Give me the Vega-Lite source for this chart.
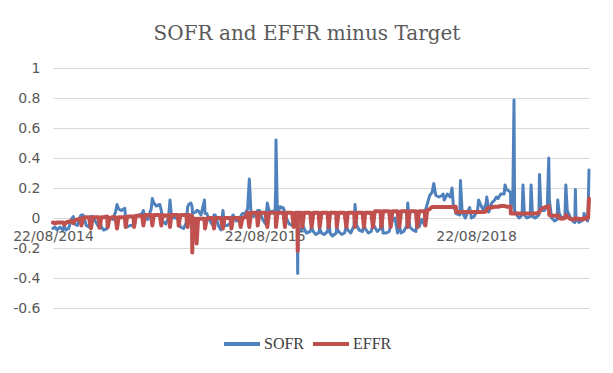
{
 "$schema": "https://vega.github.io/schema/vega-lite/v6.json",
 "width": 536, "height": 240,
 "autosize": {"type": "none"},
 "padding": {"left": 53, "top": 68, "right": 24, "bottom": 65},
 "background": "#ffffff",
 "config": {"view": {"stroke": null}},
 "title": {"text": "SOFR and EFFR minus Target", "font": "DejaVu Serif", "fontSize": 20, "fontWeight": "normal", "color": "#595959", "anchor": "middle", "frame": "group", "dx": -14, "baseline": "alphabetic", "offset": 1},
 "data": {"values": [
{"date":"2014-08-22","SOFR":-0.07,"EFFR":-0.03},
{"date":"2014-08-29","SOFR":-0.06,"EFFR":-0.035},
{"date":"2014-09-05","SOFR":-0.08,"EFFR":-0.03},
{"date":"2014-09-15","SOFR":-0.06,"EFFR":-0.03},
{"date":"2014-09-25","SOFR":-0.08,"EFFR":-0.03},
{"date":"2014-09-30","SOFR":-0.05,"EFFR":-0.045},
{"date":"2014-10-06","SOFR":-0.08,"EFFR":-0.03},
{"date":"2014-10-15","SOFR":-0.07,"EFFR":-0.025},
{"date":"2014-10-24","SOFR":-0.01,"EFFR":-0.02},
{"date":"2014-10-31","SOFR":0.01,"EFFR":-0.035},
{"date":"2014-11-05","SOFR":-0.04,"EFFR":-0.015},
{"date":"2014-11-14","SOFR":-0.05,"EFFR":-0.01},
{"date":"2014-11-24","SOFR":0.01,"EFFR":-0.005},
{"date":"2014-11-28","SOFR":0.02,"EFFR":-0.05},
{"date":"2014-12-04","SOFR":0.02,"EFFR":0.0},
{"date":"2014-12-15","SOFR":-0.05,"EFFR":0.005},
{"date":"2014-12-24","SOFR":-0.06,"EFFR":0.005},
{"date":"2014-12-31","SOFR":0.01,"EFFR":-0.07},
{"date":"2015-01-06","SOFR":0.01,"EFFR":0.005},
{"date":"2015-01-15","SOFR":-0.02,"EFFR":0.005},
{"date":"2015-01-27","SOFR":-0.06,"EFFR":0.005},
{"date":"2015-01-30","SOFR":0.0,"EFFR":-0.065},
{"date":"2015-02-05","SOFR":-0.06,"EFFR":0.005},
{"date":"2015-02-13","SOFR":-0.08,"EFFR":0.005},
{"date":"2015-02-25","SOFR":-0.07,"EFFR":0.01},
{"date":"2015-02-27","SOFR":-0.02,"EFFR":-0.06},
{"date":"2015-03-05","SOFR":0.0,"EFFR":0.0},
{"date":"2015-03-16","SOFR":-0.01,"EFFR":0.005},
{"date":"2015-03-26","SOFR":0.04,"EFFR":0.005},
{"date":"2015-03-31","SOFR":0.09,"EFFR":-0.07},
{"date":"2015-04-06","SOFR":0.06,"EFFR":0.005},
{"date":"2015-04-15","SOFR":0.05,"EFFR":0.005},
{"date":"2015-04-27","SOFR":0.065,"EFFR":0.005},
{"date":"2015-04-30","SOFR":-0.02,"EFFR":-0.06},
{"date":"2015-05-05","SOFR":-0.06,"EFFR":0.01},
{"date":"2015-05-15","SOFR":-0.05,"EFFR":0.01},
{"date":"2015-05-27","SOFR":-0.05,"EFFR":0.01},
{"date":"2015-05-29","SOFR":0.0,"EFFR":-0.06},
{"date":"2015-06-04","SOFR":0.01,"EFFR":0.015},
{"date":"2015-06-15","SOFR":0.02,"EFFR":0.015},
{"date":"2015-06-26","SOFR":0.03,"EFFR":0.015},
{"date":"2015-06-30","SOFR":0.05,"EFFR":-0.05},
{"date":"2015-07-06","SOFR":0.0,"EFFR":0.02},
{"date":"2015-07-15","SOFR":-0.01,"EFFR":0.02},
{"date":"2015-07-27","SOFR":0.06,"EFFR":0.02},
{"date":"2015-07-31","SOFR":0.13,"EFFR":-0.05},
{"date":"2015-08-05","SOFR":0.1,"EFFR":0.02},
{"date":"2015-08-14","SOFR":0.08,"EFFR":0.02},
{"date":"2015-08-26","SOFR":0.09,"EFFR":0.02},
{"date":"2015-08-31","SOFR":0.05,"EFFR":-0.05},
{"date":"2015-09-04","SOFR":-0.02,"EFFR":0.02},
{"date":"2015-09-15","SOFR":-0.04,"EFFR":0.015},
{"date":"2015-09-25","SOFR":0.0,"EFFR":0.02},
{"date":"2015-09-30","SOFR":0.12,"EFFR":-0.06},
{"date":"2015-10-05","SOFR":0.01,"EFFR":0.02},
{"date":"2015-10-15","SOFR":0.0,"EFFR":0.02},
{"date":"2015-10-27","SOFR":0.0,"EFFR":0.02},
{"date":"2015-10-30","SOFR":-0.02,"EFFR":-0.05},
{"date":"2015-11-05","SOFR":-0.06,"EFFR":0.02},
{"date":"2015-11-16","SOFR":-0.07,"EFFR":0.02},
{"date":"2015-11-25","SOFR":-0.03,"EFFR":0.02},
{"date":"2015-11-30","SOFR":0.075,"EFFR":-0.06},
{"date":"2015-12-04","SOFR":0.09,"EFFR":0.02},
{"date":"2015-12-11","SOFR":0.1,"EFFR":0.015},
{"date":"2015-12-15","SOFR":0.08,"EFFR":0.015},
{"date":"2015-12-16","SOFR":0.06,"EFFR":-0.23},
{"date":"2015-12-17","SOFR":0.03,"EFFR":-0.005},
{"date":"2015-12-28","SOFR":0.04,"EFFR":-0.005},
{"date":"2015-12-31","SOFR":0.05,"EFFR":-0.17},
{"date":"2016-01-05","SOFR":0.05,"EFFR":-0.005},
{"date":"2016-01-15","SOFR":0.02,"EFFR":-0.005},
{"date":"2016-01-27","SOFR":0.12,"EFFR":-0.005},
{"date":"2016-01-29","SOFR":0.03,"EFFR":-0.07},
{"date":"2016-02-04","SOFR":0.03,"EFFR":-0.005},
{"date":"2016-02-12","SOFR":-0.01,"EFFR":0.0},
{"date":"2016-02-25","SOFR":-0.05,"EFFR":0.0},
{"date":"2016-02-29","SOFR":0.02,"EFFR":-0.07},
{"date":"2016-03-04","SOFR":0.02,"EFFR":0.0},
{"date":"2016-03-15","SOFR":-0.05,"EFFR":0.0},
{"date":"2016-03-24","SOFR":-0.08,"EFFR":0.0},
{"date":"2016-03-31","SOFR":0.05,"EFFR":-0.07},
{"date":"2016-04-05","SOFR":-0.05,"EFFR":0.0},
{"date":"2016-04-15","SOFR":-0.05,"EFFR":0.0},
{"date":"2016-04-26","SOFR":-0.035,"EFFR":0.0},
{"date":"2016-04-29","SOFR":0.0,"EFFR":-0.07},
{"date":"2016-05-05","SOFR":0.02,"EFFR":0.0},
{"date":"2016-05-16","SOFR":-0.02,"EFFR":0.0},
{"date":"2016-05-26","SOFR":-0.01,"EFFR":0.0},
{"date":"2016-05-31","SOFR":0.01,"EFFR":-0.06},
{"date":"2016-06-06","SOFR":0.03,"EFFR":0.0},
{"date":"2016-06-15","SOFR":0.03,"EFFR":0.005},
{"date":"2016-06-24","SOFR":0.06,"EFFR":0.035},
{"date":"2016-06-30","SOFR":0.26,"EFFR":-0.06},
{"date":"2016-07-06","SOFR":0.02,"EFFR":0.035},
{"date":"2016-07-15","SOFR":0.01,"EFFR":0.035},
{"date":"2016-07-26","SOFR":0.03,"EFFR":0.035},
{"date":"2016-07-29","SOFR":0.05,"EFFR":-0.05},
{"date":"2016-08-04","SOFR":0.05,"EFFR":0.035},
{"date":"2016-08-15","SOFR":-0.01,"EFFR":0.035},
{"date":"2016-08-25","SOFR":-0.04,"EFFR":0.035},
{"date":"2016-08-31","SOFR":0.1,"EFFR":-0.06},
{"date":"2016-09-06","SOFR":0.05,"EFFR":0.035},
{"date":"2016-09-15","SOFR":0.04,"EFFR":0.035},
{"date":"2016-09-27","SOFR":0.05,"EFFR":0.035},
{"date":"2016-09-29","SOFR":0.2,"EFFR":0.035},
{"date":"2016-09-30","SOFR":0.52,"EFFR":-0.06},
{"date":"2016-10-05","SOFR":0.02,"EFFR":0.035},
{"date":"2016-10-14","SOFR":0.075,"EFFR":0.035},
{"date":"2016-10-26","SOFR":0.065,"EFFR":0.035},
{"date":"2016-10-31","SOFR":0.03,"EFFR":-0.06},
{"date":"2016-11-04","SOFR":0.0,"EFFR":0.035},
{"date":"2016-11-15","SOFR":-0.04,"EFFR":0.035},
{"date":"2016-11-25","SOFR":-0.05,"EFFR":0.035},
{"date":"2016-11-30","SOFR":-0.03,"EFFR":-0.06},
{"date":"2016-12-06","SOFR":-0.04,"EFFR":0.035},
{"date":"2016-12-13","SOFR":-0.05,"EFFR":0.035},
{"date":"2016-12-14","SOFR":-0.37,"EFFR":-0.22},
{"date":"2016-12-15","SOFR":-0.07,"EFFR":0.035},
{"date":"2016-12-27","SOFR":-0.08,"EFFR":0.035},
{"date":"2016-12-30","SOFR":-0.04,"EFFR":-0.06},
{"date":"2017-01-05","SOFR":-0.07,"EFFR":0.035},
{"date":"2017-01-13","SOFR":-0.1,"EFFR":0.035},
{"date":"2017-01-26","SOFR":-0.09,"EFFR":0.035},
{"date":"2017-01-31","SOFR":-0.06,"EFFR":-0.06},
{"date":"2017-02-06","SOFR":-0.09,"EFFR":0.035},
{"date":"2017-02-15","SOFR":-0.11,"EFFR":0.035},
{"date":"2017-02-24","SOFR":-0.1,"EFFR":0.035},
{"date":"2017-02-28","SOFR":-0.07,"EFFR":-0.06},
{"date":"2017-03-06","SOFR":-0.1,"EFFR":0.035},
{"date":"2017-03-15","SOFR":-0.11,"EFFR":0.035},
{"date":"2017-03-27","SOFR":-0.09,"EFFR":0.035},
{"date":"2017-03-31","SOFR":-0.01,"EFFR":-0.06},
{"date":"2017-04-05","SOFR":-0.1,"EFFR":0.035},
{"date":"2017-04-13","SOFR":-0.12,"EFFR":0.035},
{"date":"2017-04-26","SOFR":-0.1,"EFFR":0.035},
{"date":"2017-04-28","SOFR":-0.06,"EFFR":-0.06},
{"date":"2017-05-04","SOFR":-0.09,"EFFR":0.035},
{"date":"2017-05-15","SOFR":-0.11,"EFFR":0.035},
{"date":"2017-05-25","SOFR":-0.1,"EFFR":0.035},
{"date":"2017-05-31","SOFR":-0.05,"EFFR":-0.06},
{"date":"2017-06-05","SOFR":-0.08,"EFFR":0.035},
{"date":"2017-06-15","SOFR":-0.1,"EFFR":0.035},
{"date":"2017-06-27","SOFR":-0.05,"EFFR":0.035},
{"date":"2017-06-30","SOFR":0.09,"EFFR":-0.06},
{"date":"2017-07-06","SOFR":-0.05,"EFFR":0.035},
{"date":"2017-07-14","SOFR":-0.08,"EFFR":0.035},
{"date":"2017-07-26","SOFR":-0.09,"EFFR":0.035},
{"date":"2017-07-31","SOFR":-0.04,"EFFR":-0.06},
{"date":"2017-08-04","SOFR":-0.07,"EFFR":0.035},
{"date":"2017-08-15","SOFR":-0.1,"EFFR":0.035},
{"date":"2017-08-25","SOFR":-0.09,"EFFR":0.035},
{"date":"2017-08-31","SOFR":-0.04,"EFFR":-0.06},
{"date":"2017-09-06","SOFR":-0.06,"EFFR":0.045},
{"date":"2017-09-15","SOFR":-0.09,"EFFR":0.045},
{"date":"2017-09-26","SOFR":-0.07,"EFFR":0.045},
{"date":"2017-09-29","SOFR":0.01,"EFFR":-0.06},
{"date":"2017-10-05","SOFR":-0.1,"EFFR":0.045},
{"date":"2017-10-16","SOFR":-0.1,"EFFR":0.045},
{"date":"2017-10-26","SOFR":-0.09,"EFFR":0.045},
{"date":"2017-10-31","SOFR":-0.05,"EFFR":-0.06},
{"date":"2017-11-06","SOFR":-0.02,"EFFR":0.045},
{"date":"2017-11-15","SOFR":0.0,"EFFR":0.045},
{"date":"2017-11-24","SOFR":-0.1,"EFFR":0.045},
{"date":"2017-11-30","SOFR":-0.05,"EFFR":-0.06},
{"date":"2017-12-06","SOFR":-0.1,"EFFR":0.045},
{"date":"2017-12-15","SOFR":-0.09,"EFFR":0.045},
{"date":"2017-12-26","SOFR":-0.05,"EFFR":0.045},
{"date":"2017-12-29","SOFR":0.1,"EFFR":-0.06},
{"date":"2018-01-05","SOFR":-0.06,"EFFR":0.045},
{"date":"2018-01-16","SOFR":-0.08,"EFFR":0.045},
{"date":"2018-01-26","SOFR":-0.09,"EFFR":0.045},
{"date":"2018-01-31","SOFR":-0.03,"EFFR":-0.06},
{"date":"2018-02-06","SOFR":-0.06,"EFFR":0.045},
{"date":"2018-02-15","SOFR":-0.01,"EFFR":0.045},
{"date":"2018-02-26","SOFR":-0.05,"EFFR":0.045},
{"date":"2018-02-28","SOFR":0.05,"EFFR":-0.05},
{"date":"2018-03-06","SOFR":0.09,"EFFR":0.05},
{"date":"2018-03-15","SOFR":0.15,"EFFR":0.06},
{"date":"2018-03-23","SOFR":0.17,"EFFR":0.073},
{"date":"2018-03-29","SOFR":0.23,"EFFR":0.073},
{"date":"2018-04-05","SOFR":0.15,"EFFR":0.073},
{"date":"2018-04-16","SOFR":0.14,"EFFR":0.073},
{"date":"2018-04-26","SOFR":0.15,"EFFR":0.073},
{"date":"2018-04-30","SOFR":0.16,"EFFR":0.073},
{"date":"2018-05-04","SOFR":0.12,"EFFR":0.073},
{"date":"2018-05-15","SOFR":0.16,"EFFR":0.073},
{"date":"2018-05-25","SOFR":0.14,"EFFR":0.073},
{"date":"2018-05-31","SOFR":0.2,"EFFR":0.073},
{"date":"2018-06-05","SOFR":0.07,"EFFR":0.075},
{"date":"2018-06-13","SOFR":0.05,"EFFR":0.075},
{"date":"2018-06-14","SOFR":0.03,"EFFR":0.04},
{"date":"2018-06-27","SOFR":0.02,"EFFR":0.04},
{"date":"2018-06-29","SOFR":0.25,"EFFR":0.04},
{"date":"2018-07-05","SOFR":0.04,"EFFR":0.04},
{"date":"2018-07-16","SOFR":0.0,"EFFR":0.04},
{"date":"2018-07-26","SOFR":0.05,"EFFR":0.04},
{"date":"2018-07-31","SOFR":0.07,"EFFR":0.04},
{"date":"2018-08-06","SOFR":0.0,"EFFR":0.04},
{"date":"2018-08-15","SOFR":0.01,"EFFR":0.04},
{"date":"2018-08-27","SOFR":0.05,"EFFR":0.04},
{"date":"2018-08-31","SOFR":0.12,"EFFR":0.04},
{"date":"2018-09-06","SOFR":0.09,"EFFR":0.04},
{"date":"2018-09-17","SOFR":0.05,"EFFR":0.04},
{"date":"2018-09-26","SOFR":0.1,"EFFR":0.045},
{"date":"2018-09-28","SOFR":0.14,"EFFR":0.06},
{"date":"2018-10-05","SOFR":0.04,"EFFR":0.07},
{"date":"2018-10-15","SOFR":0.1,"EFFR":0.07},
{"date":"2018-10-25","SOFR":0.12,"EFFR":0.075},
{"date":"2018-10-31","SOFR":0.14,"EFFR":0.075},
{"date":"2018-11-06","SOFR":0.13,"EFFR":0.075},
{"date":"2018-11-15","SOFR":0.16,"EFFR":0.08},
{"date":"2018-11-27","SOFR":0.16,"EFFR":0.08},
{"date":"2018-11-30","SOFR":0.22,"EFFR":0.08},
{"date":"2018-12-05","SOFR":0.19,"EFFR":0.075},
{"date":"2018-12-14","SOFR":0.18,"EFFR":0.075},
{"date":"2018-12-19","SOFR":0.17,"EFFR":0.075},
{"date":"2018-12-20","SOFR":0.06,"EFFR":0.03},
{"date":"2018-12-27","SOFR":0.12,"EFFR":0.03},
{"date":"2018-12-31","SOFR":0.787,"EFFR":0.03},
{"date":"2019-01-02","SOFR":0.05,"EFFR":0.03},
{"date":"2019-01-10","SOFR":0.02,"EFFR":0.03},
{"date":"2019-01-18","SOFR":0.0,"EFFR":0.03},
{"date":"2019-01-28","SOFR":0.02,"EFFR":0.03},
{"date":"2019-01-31","SOFR":0.22,"EFFR":0.03},
{"date":"2019-02-05","SOFR":0.02,"EFFR":0.03},
{"date":"2019-02-14","SOFR":0.0,"EFFR":0.03},
{"date":"2019-02-25","SOFR":0.01,"EFFR":0.03},
{"date":"2019-02-28","SOFR":0.22,"EFFR":0.03},
{"date":"2019-03-05","SOFR":0.01,"EFFR":0.03},
{"date":"2019-03-14","SOFR":0.0,"EFFR":0.03},
{"date":"2019-03-27","SOFR":0.02,"EFFR":0.035},
{"date":"2019-03-29","SOFR":0.29,"EFFR":0.04},
{"date":"2019-04-03","SOFR":0.05,"EFFR":0.06},
{"date":"2019-04-15","SOFR":0.05,"EFFR":0.07},
{"date":"2019-04-25","SOFR":0.08,"EFFR":0.075},
{"date":"2019-04-30","SOFR":0.4,"EFFR":0.08},
{"date":"2019-05-02","SOFR":0.12,"EFFR":0.02},
{"date":"2019-05-10","SOFR":0.0,"EFFR":0.015},
{"date":"2019-05-20","SOFR":-0.02,"EFFR":0.015},
{"date":"2019-05-29","SOFR":-0.01,"EFFR":0.015},
{"date":"2019-05-31","SOFR":0.12,"EFFR":0.02},
{"date":"2019-06-05","SOFR":0.03,"EFFR":0.0},
{"date":"2019-06-14","SOFR":0.0,"EFFR":-0.005},
{"date":"2019-06-25","SOFR":0.01,"EFFR":0.0},
{"date":"2019-06-28","SOFR":0.22,"EFFR":0.02},
{"date":"2019-07-03","SOFR":0.05,"EFFR":0.01},
{"date":"2019-07-12","SOFR":0.01,"EFFR":-0.005},
{"date":"2019-07-22","SOFR":-0.02,"EFFR":-0.01},
{"date":"2019-07-29","SOFR":-0.03,"EFFR":-0.01},
{"date":"2019-07-31","SOFR":0.19,"EFFR":0.0},
{"date":"2019-08-02","SOFR":0.0,"EFFR":-0.005},
{"date":"2019-08-12","SOFR":-0.03,"EFFR":-0.005},
{"date":"2019-08-21","SOFR":-0.02,"EFFR":-0.01},
{"date":"2019-08-28","SOFR":-0.01,"EFFR":-0.005},
{"date":"2019-08-30","SOFR":0.03,"EFFR":0.0},
{"date":"2019-09-04","SOFR":0.0,"EFFR":-0.005},
{"date":"2019-09-11","SOFR":-0.02,"EFFR":0.0},
{"date":"2019-09-13","SOFR":0.05,"EFFR":0.0},
{"date":"2019-09-16","SOFR":0.32,"EFFR":0.13}
 ]},
 "transform": [{"fold": ["SOFR", "EFFR"], "as": ["series", "value"]}],
 "encoding": {
  "x": {"field": "date", "type": "temporal",
   "scale": {"type": "utc", "domain": [{"year": 2014, "month": 8, "date": 22, "utc": true}, {"year": 2019, "month": 9, "date": 16, "utc": true}]},
   "axis": {"title": null, "values": [{"year": 2014, "month": 8, "date": 22, "utc": true}, {"year": 2016, "month": 8, "date": 22, "utc": true}, {"year": 2018, "month": 8, "date": 22, "utc": true}],
    "format": "%d/%m/%Y", "offset": -90, "domain": false, "ticks": false, "grid": false, "labelPadding": 11,
    "labelFont": "DejaVu Sans", "labelFontSize": 14, "labelColor": "#595959", "labelOverlap": false, "labelBound": false, "labelFlush": false}},
  "y": {"field": "value", "type": "quantitative",
   "scale": {"domain": [-0.6, 1], "nice": false, "zero": false},
   "axis": {"title": null, "values": [-0.6, -0.4, -0.2, 0, 0.2, 0.4, 0.6, 0.8, 1],
    "labelExpr": "toString(round(datum.value*10)/10)", "domain": false, "ticks": false, "grid": true,
    "gridColor": "#D9D9D9", "gridWidth": 1, "labelPadding": 13, "labelFont": "DejaVu Sans", "labelFontSize": 14, "labelColor": "#595959"}},
  "color": {"field": "series", "type": "nominal",
   "scale": {"domain": ["SOFR", "EFFR"], "range": ["#4F81BD", "#C0504D"]},
   "legend": {"title": null, "orient": "none", "legendX": 169, "legendY": 256, "direction": "horizontal",
    "symbolType": "stroke", "symbolSize": 1296, "symbolStrokeWidth": 4, "labelFont": "Liberation Serif",
    "labelFontSize": 16, "labelColor": "#404040", "labelOffset": 2, "columnPadding": 0, "padding": 0}}
 },
 "layer": [
  {"transform": [{"filter": "datum.series === 'SOFR'"}], "mark": {"type": "line", "strokeWidth": 3, "strokeJoin": "round", "strokeCap": "round"}},
  {"transform": [{"filter": "datum.series === 'EFFR'"}], "mark": {"type": "line", "strokeWidth": 4, "strokeJoin": "round", "strokeCap": "round"}}
 ]
}
